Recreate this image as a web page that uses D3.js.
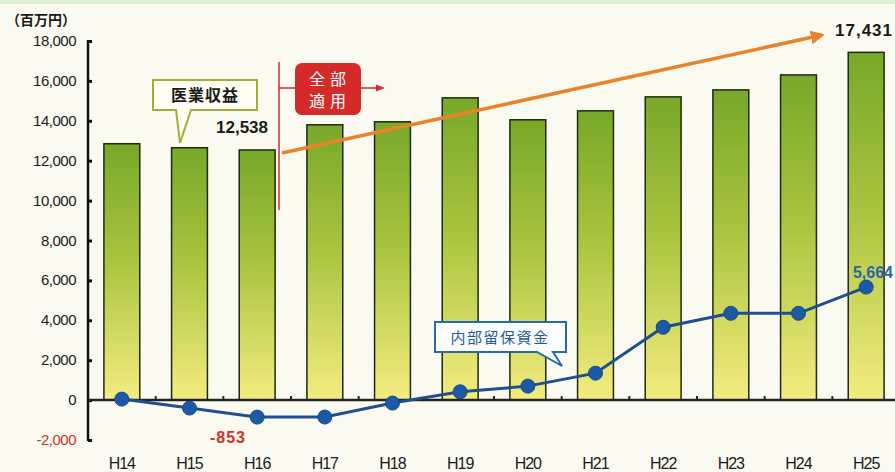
<!DOCTYPE html>
<html lang="ja">
<head>
<meta charset="UTF-8">
<title>医業収益と内部留保資金</title>
<script src="https://d3js.org/d3.v7.min.js"></script>
<style>
  body { margin: 0; background: #fbfaf1; }
  svg { display: block; }
  text { font-family: "Liberation Sans", Arial, sans-serif; }
  .jp { font-family: "Noto Sans CJK JP", sans-serif; }
</style>
</head>
<body>
<div id="chart"></div>
<script>
// data (百万円)
const years = ["H14", "H15", "H16", "H17", "H18", "H19", "H20", "H21", "H22", "H23", "H24", "H25"];
const revenue = [12850, 12650, 12538, 13800, 13950, 15150, 14050, 14500, 15200, 15550, 16300, 17431];
const reserve = [50, -400, -853, -850, -150, 415, 700, 1350, 3650, 4350, 4350, 5664];
const yTicks = [-2000, 0, 2000, 4000, 6000, 8000, 10000, 12000, 14000, 16000, 18000];

const W = 895, H = 472;
const svg = d3.select("#chart").append("svg")
  .attr("width", W).attr("height", H);

// background + light green top band
svg.append("rect").attr("width", W).attr("height", H).attr("fill", "#fbfaf1");
svg.append("rect").attr("width", W).attr("height", 4).attr("fill", "#dff0d8");

const x = d3.scaleBand().domain(years).range([88, 900]).paddingInner(0.47).paddingOuter(0.235);
const y = d3.scaleLinear().domain([-2000, 18000]).range([440, 41]);

const defs = svg.append("defs");
const grad = defs.append("linearGradient").attr("id", "barGrad")
  .attr("x1", 0).attr("y1", 0).attr("x2", 0).attr("y2", 1);
grad.append("stop").attr("offset", "0%").attr("stop-color", "#78a82a");
grad.append("stop").attr("offset", "45%").attr("stop-color", "#a9c43e");
grad.append("stop").attr("offset", "100%").attr("stop-color", "#f4ec80");

defs.append("marker").attr("id", "orangeHead")
  .attr("viewBox", "0 0 10 10").attr("refX", 8).attr("refY", 5)
  .attr("markerWidth", 4).attr("markerHeight", 4).attr("orient", "auto")
  .append("path").attr("d", "M0,0 L10,5 L0,10 Z").attr("fill", "#e8832a");
defs.append("marker").attr("id", "redHead")
  .attr("viewBox", "0 0 10 10").attr("refX", 8).attr("refY", 5)
  .attr("markerWidth", 6).attr("markerHeight", 6).attr("orient", "auto")
  .append("path").attr("d", "M0,1 L10,5 L0,9 Z").attr("fill", "#d42a2a");

// bars
svg.selectAll(".bar").data(years).enter().append("rect")
  .attr("class", "bar")
  .attr("x", d => x(d))
  .attr("y", (d, i) => y(revenue[i]))
  .attr("width", x.bandwidth())
  .attr("height", (d, i) => y(0) - y(revenue[i]))
  .attr("fill", "url(#barGrad)")
  .attr("stroke", "#1e2a10").attr("stroke-width", 1.5);

// y axis
const yAxis = svg.append("g").attr("transform", "translate(88,0)")
  .call(d3.axisRight(y).tickValues(yTicks).tickSize(4).tickFormat(""));
yAxis.select(".domain").remove();
yAxis.selectAll(".tick line").attr("stroke", "#111").attr("stroke-width", 3);
svg.append("line").attr("x1", 88).attr("x2", 88).attr("y1", y(18000) - 1).attr("y2", y(-2000) + 1)
  .attr("stroke", "#111").attr("stroke-width", 2.5);

svg.selectAll(".ylab").data(yTicks).enter().append("text")
  .attr("x", 76).attr("y", d => y(d) + 5)
  .attr("text-anchor", "end").attr("font-size", 15)
  .attr("letter-spacing", -0.5)
  .attr("fill", d => d < 0 ? "#d0322a" : "#1a1a1a")
  .text(d => d3.format(",")(d).replace("−", "-"));

svg.append("text").attr("class", "jp").attr("x", 6).attr("y", 25)
  .attr("font-size", 14).attr("font-weight", "bold").attr("fill", "#1a1a1a")
  .text("（百万円）");

// zero line with small ticks between bars
svg.append("line").attr("x1", 88).attr("x2", W).attr("y1", y(0)).attr("y2", y(0))
  .attr("stroke", "#222").attr("stroke-width", 2.5);
svg.selectAll(".mtick").data(years.slice(1)).enter().append("line")
  .attr("x1", d => x(d) - x.step() * 0.235).attr("x2", d => x(d) - x.step() * 0.235)
  .attr("y1", y(0) - 4).attr("y2", y(0))
  .attr("stroke", "#222").attr("stroke-width", 2);

// x labels
svg.selectAll(".xlab").data(years).enter().append("text")
  .attr("x", d => x(d) + x.bandwidth() / 2).attr("y", 469)
  .attr("text-anchor", "middle").attr("font-size", 16).attr("letter-spacing", -1)
  .attr("fill", "#1a1a1a").text(d => d);

// reserve line
const line = d3.line().x((d, i) => x(years[i]) + x.bandwidth() / 2).y(d => y(d));
svg.append("path").datum(reserve).attr("d", line)
  .attr("fill", "none").attr("stroke", "#1f4f92").attr("stroke-width", 3);
svg.selectAll(".dot").data(reserve).enter().append("circle")
  .attr("cx", (d, i) => x(years[i]) + x.bandwidth() / 2).attr("cy", d => y(d))
  .attr("r", 7).attr("fill", "#1c5aa6").attr("stroke", "#174a88").attr("stroke-width", 1);

// orange trend arrow
svg.append("line").attr("x1", 282).attr("y1", 153).attr("x2", 822).attr("y2", 35)
  .attr("stroke", "#e8832a").attr("stroke-width", 3.5).attr("marker-end", "url(#orangeHead)");

// 全部適用 marker
svg.append("line").attr("x1", 279).attr("x2", 279).attr("y1", 62).attr("y2", 210)
  .attr("stroke", "#d42a2a").attr("stroke-width", 1.5);
svg.append("line").attr("x1", 279).attr("x2", 296).attr("y1", 88).attr("y2", 88)
  .attr("stroke", "#d42a2a").attr("stroke-width", 1.5);
svg.append("line").attr("x1", 360).attr("x2", 383).attr("y1", 88).attr("y2", 88)
  .attr("stroke", "#d42a2a").attr("stroke-width", 1.5).attr("marker-end", "url(#redHead)");
svg.append("rect").attr("x", 295).attr("y", 63).attr("width", 66).attr("height", 52).attr("rx", 7)
  .attr("fill", "#d42a2a");
svg.append("text").attr("class", "jp").attr("x", 330).attr("y", 85).attr("text-anchor", "middle")
  .attr("font-size", 16).attr("letter-spacing", 5).attr("fill", "#fff").text("全部");
svg.append("text").attr("class", "jp").attr("x", 330).attr("y", 107).attr("text-anchor", "middle")
  .attr("font-size", 16).attr("letter-spacing", 5).attr("fill", "#fff").text("適用");

// 医業収益 callout
svg.append("path")
  .attr("d", "M153,80 H257 V110 H191 L180,143 L176,110 H153 Z")
  .attr("fill", "#fffff4").attr("stroke", "#a3ab3c").attr("stroke-width", 2);
svg.append("text").attr("class", "jp").attr("x", 205).attr("y", 101).attr("text-anchor", "middle")
  .attr("font-size", 16).attr("font-weight", "bold").attr("letter-spacing", 1).attr("fill", "#1a1a1a")
  .text("医業収益");

// 内部留保資金 callout
svg.append("path")
  .attr("d", "M435,322 H566 V352 H553 L562,366 L537,352 H435 Z")
  .attr("fill", "#fbfdff").attr("stroke", "#2a6aa8").attr("stroke-width", 2);
svg.append("text").attr("class", "jp").attr("x", 500).attr("y", 343).attr("text-anchor", "middle")
  .attr("font-size", 15).attr("letter-spacing", 1.5).attr("fill", "#1f5a9e")
  .text("内部留保資金");

// value labels
svg.append("text").attr("x", 268).attr("y", 133).attr("text-anchor", "end")
  .attr("font-size", 17).attr("font-weight", "bold").attr("fill", "#1a1a1a")
  .text(d3.format(",")(revenue[2]));
svg.append("text").attr("x", 893).attr("y", 36).attr("text-anchor", "end")
  .attr("font-size", 17).attr("font-weight", "bold").attr("letter-spacing", 1).attr("fill", "#1a1a1a")
  .text(d3.format(",")(revenue[11]));
svg.append("text").attr("x", 228).attr("y", 443).attr("text-anchor", "middle")
  .attr("font-size", 16).attr("font-weight", "bold").attr("letter-spacing", 1).attr("fill", "#d0322a")
  .text("-" + Math.abs(reserve[2]));
svg.append("text").attr("x", 893).attr("y", 278).attr("text-anchor", "end")
  .attr("font-size", 16).attr("font-weight", "bold").attr("fill", "#2a66a8")
  .text(d3.format(",")(reserve[11]));
</script>
</body>
</html>
